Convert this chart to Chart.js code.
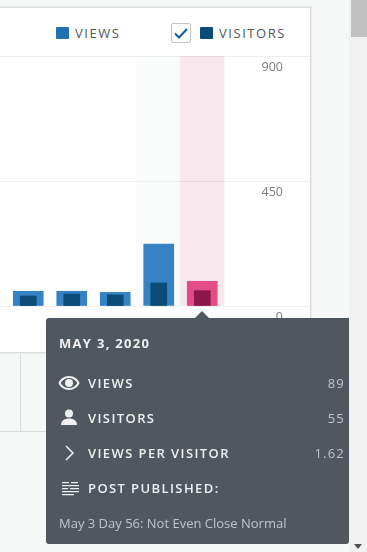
<!DOCTYPE html>
<html lang="en">
<head>
  <meta charset="UTF-8">
  <title>Stats</title>
  <script src="https://cdn.jsdelivr.net/npm/chart.js"></script>
  <style>
    html, body { margin: 0; height: 100%; overflow: hidden; background: #f6f7f7; font-family: 'Open Sans', sans-serif; }
    .card { position: absolute; left: -2px; top: 7px; width: 311px; height: 344px; background: #fff; border: 1px solid #dcdcde; box-shadow: 0 0 0 1px #eceded; overflow: hidden; }
    .legend-line { position: absolute; left: 0; right: 0; top: 48px; height: 1px; background: #f0f0f1; }
    canvas { position: absolute; left: -36px; top: 38px; }
    .leg { position: absolute; font-size: 13px; letter-spacing: 1.55px; color: #50575e; line-height: 18px; top: 16px; }
    .sq { position: absolute; top: 19px; width: 13px; height: 12px; border-radius: 1px; }
    .check { position: absolute; left: 172px; top: 15px; width: 18px; height: 18px; border: 1px solid #c3c4c7; border-radius: 2px; background: #fff; }
    .cells { position: absolute; left: 0; top: 352px; width: 310px; height: 79px; border-bottom: 1px solid #dcdcde; }
    .cells i { position: absolute; left: 20px; top: 0; bottom: 0; width: 1px; background: #dcdcde; }
    .scroll { position: absolute; left: 349px; top: 0; width: 18px; height: 552px; background: #f1f1f1; }
    .thumb { position: absolute; left: 2px; top: 0; width: 16px; height: 37px; background: #c1c1c1; }
    .down { position: absolute; left: 5px; top: 544px; width: 0; height: 0; border: 4.5px solid transparent; border-top: 5px solid #505050; border-bottom: 0; }
    .tip { position: absolute; left: 46px; top: 318px; width: 303px; height: 226px; background: #50575e; border-radius: 3px 0 3px 3px; color: #f0f0f1; }
    .tip:before { content: ''; position: absolute; left: 149px; top: -7px; border: 7px solid transparent; border-top: 0; border-bottom: 7px solid #50575e; }
    .row { position: absolute; left: 42px; right: 4px; font-size: 13px; letter-spacing: 1.4px; font-weight: 600; line-height: 18px; white-space: nowrap; }
    .row span { position: absolute; right: 0; top: 0; color: #c3c4c7; font-weight: 400; letter-spacing: 1.2px; }
    .tip svg { position: absolute; left: 12px; }
    .date { position: absolute; left: 13px; top: 16px; font-size: 13px; font-weight: 700; letter-spacing: 1.3px; line-height: 18px; }
    .post { position: absolute; left: 13px; top: 196px; font-size: 13px; line-height: 18px; color: #c3c4c7; white-space: nowrap; }
  </style>
</head>
<body>
  <div class="cells"><i></i></div>
  <div class="card">
    <div class="legend-line"></div>
    <canvas id="chart" width="348" height="290"></canvas>
    <div class="sq" style="left:57px;background:#2271b1"></div>
    <div class="leg" style="left:76px">VIEWS</div>
    <div class="check"><svg width="18" height="18" viewBox="0 0 18 18"><path d="M3 9.5 L7 13.5 L15 5" fill="none" stroke="#135e96" stroke-width="2"/></svg></div>
    <div class="sq" style="left:201px;background:#0a4b78"></div>
    <div class="leg" style="left:220px">VISITORS</div>
  </div>
  <div class="scroll"><div class="thumb"></div><div class="down"></div></div>
  <div class="tip">
    <div class="date" id="tipDate"></div>
    <svg style="top:57px" width="22" height="16" viewBox="0 0 22 16"><path fill="#f0f0f1" d="M11 1C6 1 2 4 0.5 8 2 12 6 15 11 15s9-3 10.500-7C20 4 16 1 11 1zm0 2c3.500 0 6.800 2 8.300 5-1.500 3-4.800 5-8.300 5s-6.800-2-8.300-5C4.200 5 7.500 3 11 3z"/><circle cx="11" cy="8" r="4" fill="#f0f0f1"/></svg>
    <div class="row" style="top:56px">VIEWS<span id="tipViews"></span></div>
    <svg style="top:91px" width="22" height="16" viewBox="0 0 22 16"><circle cx="11" cy="4.500" r="4" fill="#f0f0f1"/><path fill="#f0f0f1" d="M3 16c0-4 3-6.500 8-6.500s8 2.500 8 6.500c-2 .5-14 .5-16 0z"/></svg>
    <div class="row" style="top:91px">VISITORS<span id="tipVisitors"></span></div>
    <svg style="top:127px" width="22" height="16" viewBox="0 0 22 16"><path d="M8 1 L15 8 L8 15" fill="none" stroke="#f0f0f1" stroke-width="1.500"/></svg>
    <div class="row" style="top:126px">VIEWS PER VISITOR<span id="tipRatio"></span></div>
    <svg style="top:164px;left:13px" width="22" height="14" viewBox="0 0 22 14"><path fill="#f0f0f1" d="M3 0h7v1.200H3zM12 0h7v1.200h-7zM3 3h17v1.200H3zM3 6h6v1.200H3zM11 6h9v1.200h-9zM3 9h17v1.200H3zM3 12h12v1.200H3z"/></svg>
    <div class="row" style="top:161px">POST PUBLISHED:</div>
    <div class="post">May 3 Day 56: Not Even Close Normal</div>
  </div>
  <script>
    // blank slots keep the band spacing at both ends of the visible part of the chart
    const categories = ['', 'Apr 29', 'Apr 30', 'May 1', 'May 2', 'May 3', '', ''];
    const views = [null, 53, 53, 49, 223, 89, null, null];
    const visitors = [null, 36, 43, 40, 83, 55, null, null];
    const hoverBand = [null, null, null, null, 900, null, null, null];
    const selectedBand = [null, null, null, null, null, 900, null, null];
    const yTicks = [0, 450, 900];
    const selected = 5;
    const selectedDate = 'May 3, 2020';

    document.getElementById('tipDate').textContent = selectedDate.toUpperCase();
    document.getElementById('tipViews').textContent = views[selected];
    document.getElementById('tipVisitors').textContent = visitors[selected];
    document.getElementById('tipRatio').textContent = (views[selected] / visitors[selected]).toFixed(2);

    const pick = (normal, hot) => categories.map((_, i) => i === selected ? hot : normal);

    new Chart(document.getElementById('chart'), {
      type: 'bar',
      data: {
        labels: categories,
        datasets: [
          { label: 'Visitors', data: visitors, backgroundColor: pick('#0a4b78', '#8c1749'), barThickness: 16, order: 1 },
          { label: 'Views', data: views, backgroundColor: pick('#3582c4', '#e34c84'), barThickness: 30, order: 2 },
          { data: hoverBand, backgroundColor: 'rgba(220,228,228,0.14)', barPercentage: 1, categoryPercentage: 1, order: 3 },
          { data: selectedBand, backgroundColor: 'rgba(200,60,110,0.12)', barPercentage: 1, categoryPercentage: 1, order: 3 }
        ]
      },
      options: {
        responsive: false,
        animation: false,
        datasets: { bar: { grouped: false } },
        layout: { padding: { top: 10, bottom: 30 } },
        plugins: { legend: { display: false }, tooltip: { enabled: false } },
        scales: {
          x: { display: false, grid: { display: false } },
          y: {
            position: 'right',
            min: 0,
            max: 900,
            afterBuildTicks: axis => { axis.ticks = yTicks.map(value => ({ value })); },
            // the labels sit inside the plot, so the axis takes no room of its own
            afterFit: axis => {
              axis.width = 0;
              axis.paddingTop = 0;
              axis.paddingBottom = 0;
            },
            grid: { color: '#f0f0f1', drawTicks: false },
            border: { display: false },
            ticks: { mirror: true, crossAlign: 'near', padding: -28, labelOffset: 11, color: '#787c82', font: { family: "'Open Sans'", size: 12.5 } }
          }
        }
      }
    });
  </script>
</body>
</html>
